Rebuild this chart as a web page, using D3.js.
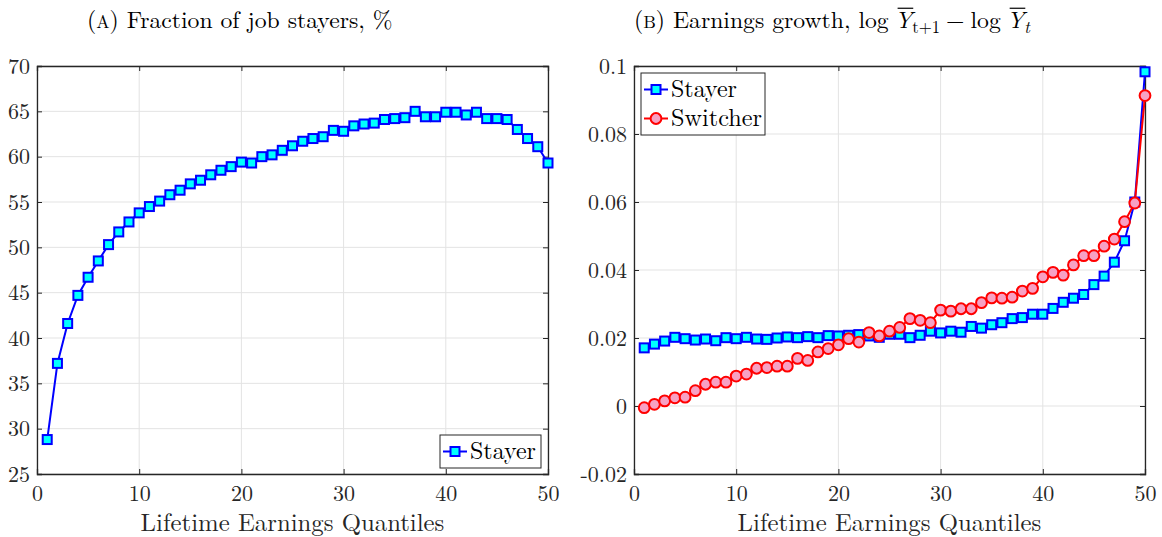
<!DOCTYPE html>
<html><head><meta charset="utf-8">
<script src="https://cdn.jsdelivr.net/npm/d3@7"></script>
<style>body{margin:0;background:#fff}svg{display:block}</style>
</head><body>
<svg id="c" width="1162" height="537"></svg>
<script>
const quantiles = d3.range(1, 51);
const stayerFraction = [28.8,37.2,41.6,44.7,46.7,48.5,50.3,51.7,52.8,53.8,
  54.5,55.1,55.8,56.3,57.0,57.4,58.0,58.5,58.9,59.4,
  59.3,60.0,60.2,60.7,61.2,61.7,62.0,62.2,62.9,62.8,
  63.4,63.6,63.7,64.1,64.2,64.3,65.0,64.4,64.4,64.9,
  64.9,64.6,64.9,64.2,64.2,64.1,63.0,62.0,61.1,59.3];
const stayerGrowth = [0.0171,0.0182,0.0191,0.0202,0.0198,0.0194,0.0197,0.0192,0.0201,0.0198,
  0.0202,0.0197,0.0196,0.0200,0.0203,0.0201,0.0204,0.0201,0.0207,0.0206,
  0.0208,0.0210,0.0206,0.0202,0.0211,0.0211,0.0201,0.0208,0.0220,0.0215,
  0.0220,0.0217,0.0234,0.0229,0.0239,0.0245,0.0257,0.0260,0.0270,0.0270,
  0.0287,0.0305,0.0317,0.0328,0.0357,0.0382,0.0423,0.0486,0.0600,0.0983];
const switcherGrowth = [-0.0005,0.0005,0.0015,0.0024,0.0026,0.0045,0.0064,0.0070,0.0070,0.0088,
  0.0094,0.0111,0.0113,0.0117,0.0117,0.0140,0.0134,0.0159,0.0169,0.0180,
  0.0198,0.0188,0.0216,0.0206,0.0220,0.0231,0.0257,0.0252,0.0245,0.0282,
  0.0279,0.0286,0.0286,0.0304,0.0318,0.0317,0.0320,0.0338,0.0346,0.0380,
  0.0393,0.0385,0.0415,0.0442,0.0442,0.0470,0.0491,0.0542,0.0597,0.0913];
const xTicks = [0,10,20,30,40,50];
const yTicksA = [25,30,35,40,45,50,55,60,65,70];
const yTicksB = [-0.02,0,0.02,0.04,0.06,0.08,0.1];
const yTickLabelsB = ["-0.02","0","0.02","0.04","0.06","0.08","0.1"];
const xLabel = "Lifetime Earnings Quantiles";

const FONT = "'Latin Modern Roman', 'CMU Serif', 'Liberation Serif', serif";
const svg = d3.select("#c");
const AX = "#262626", GRID = "#e3e3e3";

function fitSize(sel, base, target) {
  sel.style("font-size", base + "px");
  const w = sel.node().getComputedTextLength();
  sel.style("font-size", (base * target / w) + "px");
}

function panel(x0, x1, yDomain, yTicks, yLabels) {
  const x = d3.scaleLinear().domain([0,50]).range([x0,x1]);
  const y = d3.scaleLinear().domain(yDomain).range([474,66]);
  const g = svg.append("g");
  g.selectAll(".gx").data(xTicks).join("line")
    .attr("x1",d=>x(d)).attr("x2",d=>x(d)).attr("y1",66).attr("y2",474)
    .attr("stroke",GRID).attr("stroke-width",1);
  g.selectAll(".gy").data(yTicks).join("line")
    .attr("y1",d=>y(d)).attr("y2",d=>y(d)).attr("x1",x0).attr("x2",x1)
    .attr("stroke",GRID).attr("stroke-width",1);
  const ax = d3.axisBottom(x).tickValues(xTicks).tickSize(-5).tickPadding(11).tickFormat(d3.format("d"));
  const ay = d3.axisLeft(y).tickValues(yTicks).tickSize(-5).tickPadding(7)
    .tickFormat((d,i)=> yLabels ? yLabels[i] : d3.format("d")(d));
  const axT = d3.axisTop(x).tickValues(xTicks).tickSize(-5).tickFormat("");
  const ayR = d3.axisRight(y).tickValues(yTicks).tickSize(-5).tickFormat("");
  [[ax,`translate(0,474)`],[ay,`translate(${x0},0)`],[axT,`translate(0,66)`],[ayR,`translate(${x1},0)`]].forEach(([a,t])=>{
    const ga = g.append("g").attr("transform",t).call(a);
    ga.attr("font-family",null).attr("font-size",null);
    ga.select(".domain").attr("stroke",AX).attr("stroke-width",1.3);
    ga.selectAll(".tick line").attr("stroke",AX).attr("stroke-width",1);
    ga.selectAll(".tick text").attr("fill",AX).style("font-family",FONT).style("font-size","22px");
  });
  const xl = g.append("text").attr("x",(x0+x1)/2).attr("y",531).attr("text-anchor","middle")
    .attr("fill",AX).style("font-family",FONT).text(xLabel);
  fitSize(xl, 24, 304);
  return {x,y,g};
}

function drawSeries(p, vals, color, fill, shape) {
  const pts = quantiles.map((q,i)=>[p.x(q), p.y(vals[i])]);
  p.g.append("path").attr("d", d3.line()(pts)).attr("fill","none")
    .attr("stroke",color).attr("stroke-width",2);
  if (shape==="square") {
    p.g.selectAll(null).data(pts).join("rect")
      .attr("x",d=>d[0]-4.5).attr("y",d=>d[1]-4.5).attr("width",9).attr("height",9)
      .attr("fill",fill).attr("stroke",color).attr("stroke-width",2);
  } else {
    p.g.selectAll(null).data(pts).join("circle")
      .attr("cx",d=>d[0]).attr("cy",d=>d[1]).attr("r",5.4)
      .attr("fill",fill).attr("stroke",color).attr("stroke-width",2);
  }
}

function legend(x, y, w, h, items) {
  const g = svg.append("g").attr("transform",`translate(${x},${y})`);
  g.append("rect").attr("width",w).attr("height",h).attr("fill","#fff").attr("stroke",AX).attr("stroke-width",1);
  items.forEach((it,i)=>{
    const cy = 16.5 + i*29;
    g.append("line").attr("x1",3).attr("x2",27).attr("y1",cy).attr("y2",cy).attr("stroke",it.color).attr("stroke-width",2);
    if (it.shape==="square") g.append("rect").attr("x",10.5).attr("y",cy-4.5).attr("width",9).attr("height",9)
      .attr("fill",it.fill).attr("stroke",it.color).attr("stroke-width",2);
    else g.append("circle").attr("cx",15).attr("cy",cy).attr("r",5.4).attr("fill",it.fill).attr("stroke",it.color).attr("stroke-width",2);
    const t = g.append("text").attr("x",30).attr("y",cy+7).attr("fill","#000")
      .style("font-family",FONT).text(it.label);
    fitSize(t, 24, it.w);
  });
}

function title(x0, baseline, scale, segs) {
  const g = svg.append("g");
  let xpos = x0; const placed = [];
  segs.forEach(s=>{
    const t = g.append("text").attr("x",xpos).attr("y",baseline+(s.dy||0)*scale)
      .style("font-family",FONT).style("font-size",((s.size||24)*scale)+"px")
      .style("font-style",s.italic?"italic":"normal").attr("fill","#000").text(s.t);
    const w = t.node().getComputedTextLength();
    placed.push({x:xpos,w,s});
    xpos += w + (s.gap||0)*scale;
  });
  placed.forEach(p=>{
    if (p.s.over) g.append("line").attr("x1",p.x+3*scale).attr("x2",p.x+p.w+1)
      .attr("y1",baseline-20*scale).attr("y2",baseline-20*scale).attr("stroke","#000").attr("stroke-width",1.2);
  });
  return xpos - x0;
}

const pA = panel(37, 548, [25,70], yTicksA, null);
drawSeries(pA, stayerFraction, "#0000ff", "#00ffff", "square");
legend(440, 435, 101, 33, [{label:"Stayer",color:"#0000ff",fill:"#00ffff",shape:"square",w:66}]);

const pB = panel(634, 1145, [-0.02,0.1], yTicksB, yTickLabelsB);
drawSeries(pB, stayerGrowth, "#0000ff", "#00ffff", "square");
drawSeries(pB, switcherGrowth, "#ff0000", "#f7a1c4", "circle");
legend(641, 73, 124, 62, [{label:"Stayer",color:"#0000ff",fill:"#00ffff",shape:"square",w:66},
                      {label:"Switcher",color:"#ff0000",fill:"#f7a1c4",shape:"circle",w:91}]);

const segA = [{t:"("},{t:"A",size:18},{t:")",gap:8},{t:"Fraction of job stayers, %"}];
const segB = [{t:"("},{t:"B",size:18},{t:")",gap:8},{t:"Earnings growth, log",gap:6},
  {t:"Y",italic:true,over:true},{t:"t+1",size:17,dy:5,gap:6},{t:"\u2212",gap:6},{t:"log",gap:6},
  {t:"Y",italic:true,over:true},{t:"t",italic:true,size:17,dy:5}];
const tmp = svg.append("g").attr("opacity",0);
const probe = tmp.append("text").style("font-family",FONT).style("font-size","24px").text("Fraction of job stayers, %");
const natural = probe.node().getComputedTextLength();
tmp.remove();
const sc = 266 / natural;
title(87, 28, sc, segA);
title(634, 28, sc, segB);
</script>
</body></html>
